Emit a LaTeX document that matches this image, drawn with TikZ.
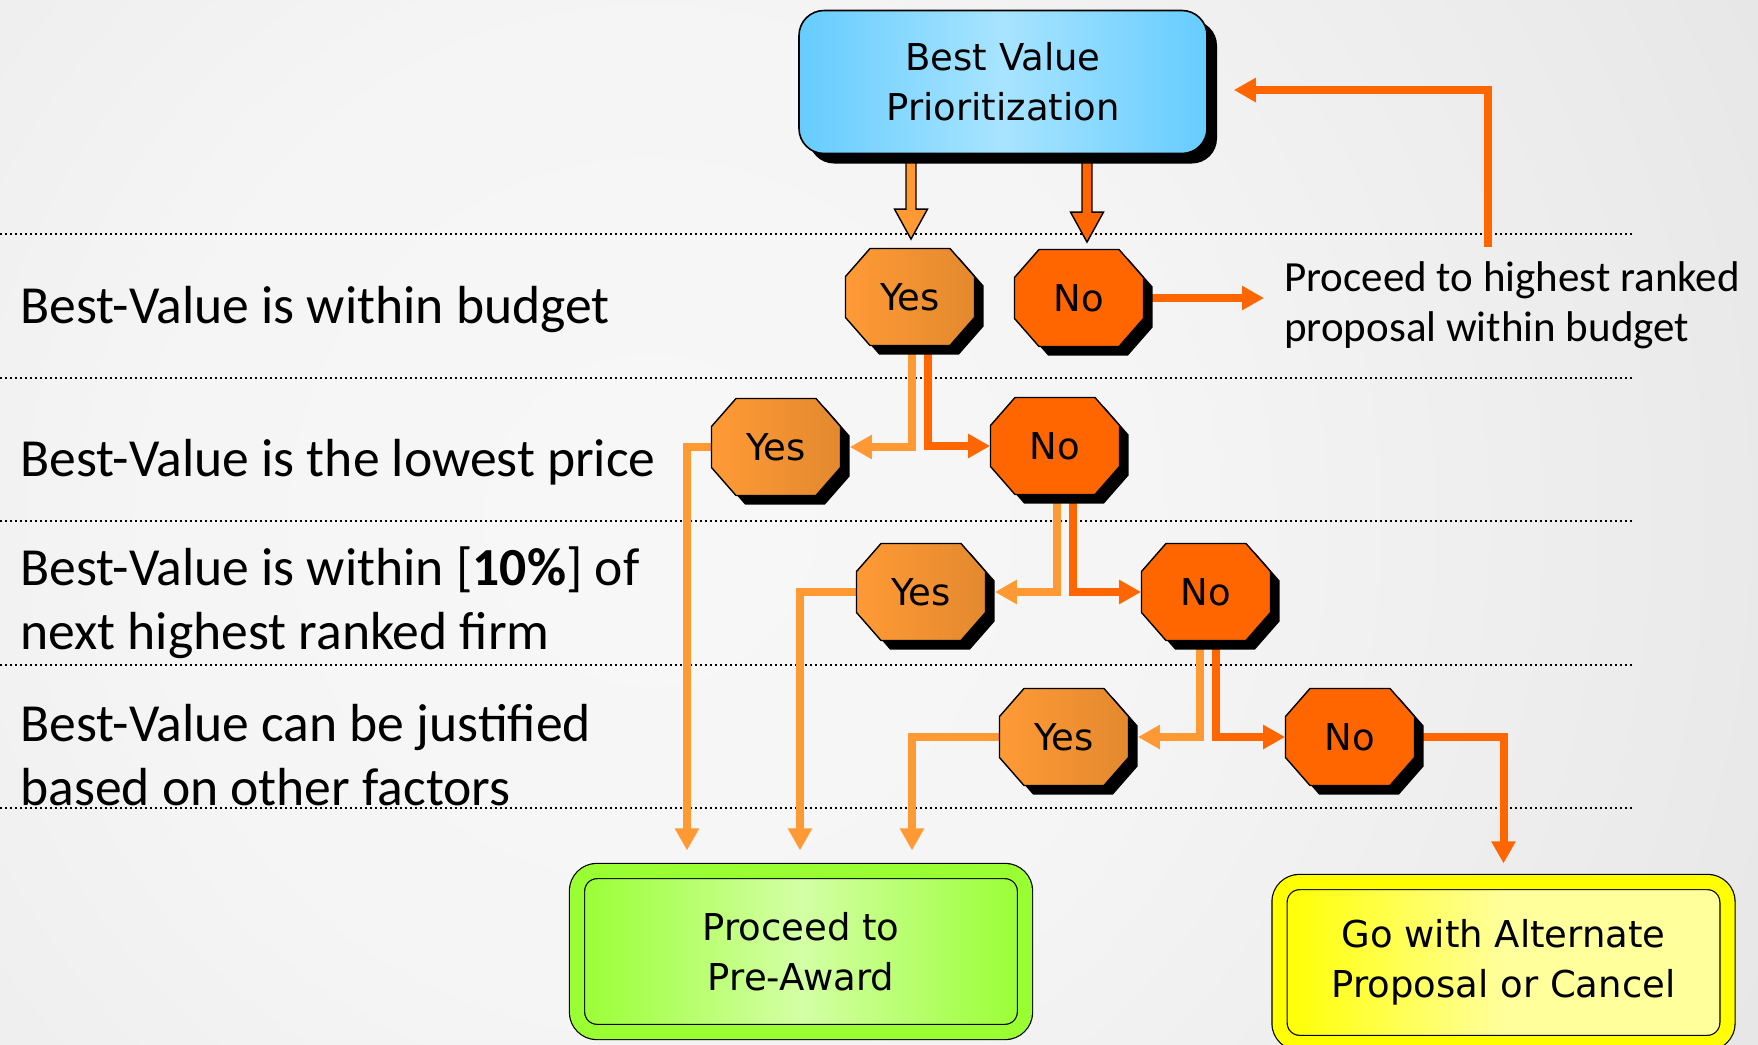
\documentclass[tikz,border=0pt]{standalone}
\usepackage{fontspec}
\setmainfont{Carlito}
\newfontfamily\boxfont{DejaVu Sans}
\usetikzlibrary{calc, shadows, backgrounds, arrows.meta}

\definecolor{skyedge}{HTML}{66CCFF}
\definecolor{skymid}{HTML}{A8E4FF}
\definecolor{yesA}{HTML}{FF9A36}
\definecolor{yesB}{HTML}{E3892E}
\definecolor{noC}{HTML}{FF6600}
\definecolor{conlight}{HTML}{FF9933}
\definecolor{condark}{HTML}{FF6600}
\definecolor{awardband}{HTML}{99FF33}
\definecolor{awardmid}{HTML}{D4FFA6}
\definecolor{altband}{HTML}{FFFF00}
\definecolor{altmid}{HTML}{FFFF9C}

\pgfdeclareradialshading{bgshade}{\pgfpoint{0bp}{0bp}}{%
  color(0bp)=(white!97!black); color(10bp)=(white!96!black);
  color(21bp)=(white!92!black); color(33bp)=(white!87!black);
  color(44bp)=(white!81!black); color(50bp)=(white!78!black)}

\tikzset{
  octagon/.pic = {
    \path[pic actions, line join = miter] (-40,-48.5) -- (40,-48.5) -- (64.5,-20.5) -- (64.5,20.5)
      -- (40,48.5) -- (-40,48.5) -- (-64.5,20.5) -- (-64.5,-20.5) -- cycle;
  }
}

\begin{document}
\begin{tikzpicture}
  [
    x = 0.5pt, y = -0.5pt,
    every node/.style = {inner sep = 0pt},
    rowlabel/.style = {anchor = west, align = left, font = \fontsize{26.8}{32}\selectfont},
    rowline/.style = {line width = 1.3pt, dash pattern = on 1.2pt off 1.3pt},
    boxtext/.style = {align = center, font = \boxfont\fontsize{18.5}{25}\selectfont},
    topbox/.style = {boxtext, draw, line width = 0.8pt, rounded corners = 12.5pt,
      minimum width = 204pt, minimum height = 71.5pt,
      left color = skyedge, right color = skyedge, middle color = skymid,
      drop shadow = {shadow xshift = 5pt, shadow yshift = -5pt, opacity = 1, fill = black}},
    decision/.style = {boxtext, minimum width = 64.5pt, minimum height = 48.5pt},
    endbox/.style = {boxtext, draw, line width = 0.6pt, double distance = 7pt,
      rounded corners = 10pt, minimum width = 224pt, minimum height = 80.5pt},
    con/.style = {line width = 4pt, -{Triangle[length = 11pt, width = 11.5pt]}},
    lightcon/.style = {con, draw = conlight},
    darkcon/.style  = {con, draw = condark},
    fatarrow/.style = {draw, line width = 0.7pt, line join = miter}
  ]
  \useasboundingbox (0,0) rectangle (1758,1045);

  % question rows
  \node[rowlabel] (Budget)  at (20,309) {Best-Value is within budget};
  \node[rowlabel] (Lowest)  at (20,462) {Best-Value is the lowest price};
  \node[rowlabel] (Within)  at (20,603) {Best-Value is within [\textbf{10\%}] of\\next highest ranked firm};
  \node[rowlabel] (Justify) at (20,755) {Best-Value can be justified\\based on other factors};

  % decisions
  \node[topbox] (Top) at (1003,82) {Best Value\\Prioritization};
  \node[decision] (Yes1) at (910,297)  {Yes};
  \node[decision] (No1)  at (1079,298) {No};
  \node[decision] (Yes2) at (776,447)  {Yes};
  \node[decision] (No2)  at (1055,446) {No};
  \node[decision] (Yes3) at (921,592)  {Yes};
  \node[decision] (No3)  at (1206,592) {No};
  \node[decision] (Yes4) at (1064,737) {Yes};
  \node[decision] (No4)  at (1350,737) {No};

  \node[anchor = west, align = left, font = \fontsize{21.5}{25}\selectfont] (Next)
    at (1284,305) {Proceed to highest ranked\\proposal within budget};

  % outcomes
  \node[endbox, double = awardband, left color = awardband, right color = awardband,
    middle color = awardmid] (Award) at (801,951.5) {Proceed to\\Pre-Award};
  \node[endbox, double = altband, left color = altband, right color = altmid,
    middle color = altmid] (Alt) at (1503.5,962.5) {Go with Alternate\\Proposal or Cancel};

  \begin{scope}[on background layer]
    \clip (0,0) rectangle (1758,1045);
    \shade[shading = bgshade] (-600,-730) rectangle (1900,1770);
    \foreach \y in {234,378,521,665,808}
      \draw[rowline] (0,\y) -- (1632,\y);

    % from the top box
    \coordinate (tipA) at ($(Yes1.north)+(1,-9)$);
    \coordinate (tipB) at ($(No1.north)+(8,-7)$);
    \draw[fatarrow, fill = conlight] (tipA) -- ++(-16.5,-30) -- ++(11.5,0)
      -- ($(tipA |- Top.south)+(-5,0)$) -- ++(10,0) -- ($(tipA)+(5,-30)$) -- ++(11.5,0) -- cycle;
    \draw[fatarrow, fill = condark] (tipB) -- ++(-16.5,-30) -- ++(11.5,0)
      -- ($(tipB |- Top.south)+(-5,0)$) -- ++(10,0) -- ($(tipB)+(5,-30)$) -- ++(11.5,0) -- cycle;

    % yes / no splits
    \draw[lightcon] ($(Yes1.south)+(2,0)$)  |- ($(Yes2.east)+(9,0)$);
    \draw[darkcon]  ($(Yes1.south)+(18,0)$) |- (No2.west);
    \draw[lightcon] ($(No2.south)+(2,0)$)   |- ($(Yes3.east)+(9,0)$);
    \draw[darkcon]  ($(No2.south)+(18,0)$)  |- (No3.west);
    \draw[lightcon] ($(No3.south)+(-6,0)$)  |- ($(Yes4.east)+(9,0)$);
    \draw[darkcon]  ($(No3.south)+(10,0)$)  |- (No4.west);

    % to the outcomes
    \draw[lightcon] (Yes2.west) -| ($(Award.north)+(-114,-20)$);
    \draw[lightcon] (Yes3.west) -| ($(Award.north)+(-1,-20)$);
    \draw[lightcon] (Yes4.west) -| ($(Award.north)+(111,-20)$);
    \draw[darkcon]  (No4.east)  -| ($(Alt.north)+(0,-18)$);
    \draw[darkcon]  (No1.east)  -- ($(No1 -| Next.west)+(-20,0)$);
    \draw[darkcon]  ($(Next.north west)+(204,-14)$) |- ($(Top.east)+(26,8)$);

    % octagons with their shadows
    \foreach \n in {Yes1, Yes2, Yes3, Yes4} {
      \pic[fill = black] at ($(\n)+(9,9)$) {octagon};
      \pic[draw, line width = 0.7pt, left color = yesA, right color = yesB] at (\n) {octagon};
    }
    \foreach \n in {No1, No2, No3, No4} {
      \pic[fill = black] at ($(\n)+(9,9)$) {octagon};
      \pic[draw, line width = 0.7pt, fill = noC] at (\n) {octagon};
    }
  \end{scope}
\end{tikzpicture}
\end{document}
